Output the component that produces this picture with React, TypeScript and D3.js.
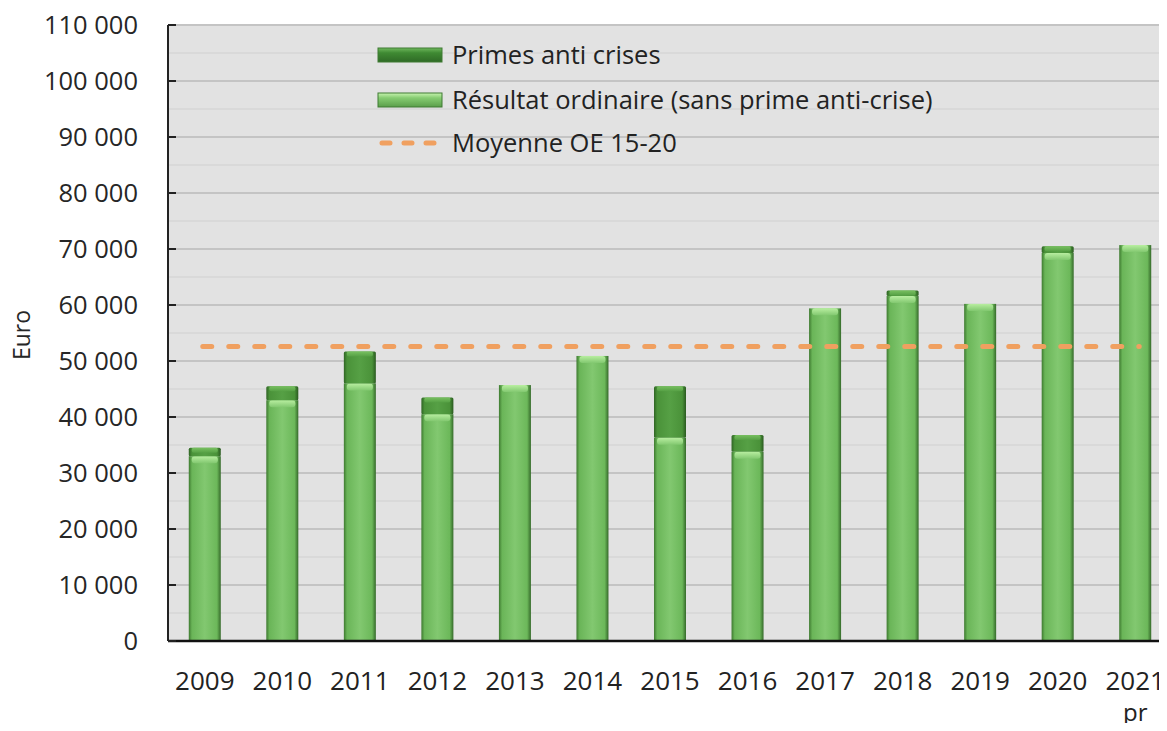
import React, { useEffect, useRef } from "react";
import * as d3 from "d3";

const years = ["2009", "2010", "2011", "2012", "2013", "2014", "2015", "2016", "2017", "2018", "2019", "2020", "2021"];
const ordinaire = [33000, 43000, 46000, 40500, 45700, 50900, 36300, 33800, 59400, 61600, 60200, 69300, 70700];
const primes = [1500, 2500, 5700, 3000, 0, 0, 9200, 3000, 0, 1000, 0, 1200, 0];
const moyenne = 52600;
const yTicks = [0, 10000, 20000, 30000, 40000, 50000, 60000, 70000, 80000, 90000, 100000, 110000];
const legendLabels = ["Primes anti crises", "Résultat ordinaire (sans prime anti-crise)", "Moyenne OE 15-20"];

const App = () => {
  const svgRef = useRef<SVGSVGElement>(null);

  useEffect(() => {
    const width = 1167;
    const height = 731;
    const left = 168;
    const top = 25;
    const bottom = 641;
    const font = "'Open Sans', 'Noto Sans', sans-serif";

    const x = d3.scaleBand().domain(years).range([166, 1174]).padding(0);
    const y = d3.scaleLinear().domain([0, 110000]).range([bottom, top]);
    const fmt = d3.formatLocale({ decimal: ",", thousands: " ", grouping: [3], currency: ["", "€"] }).format(",d");
    const barW = 32;

    const svg = d3.select(svgRef.current).attr("width", width).attr("height", height);
    svg.selectAll("*").remove();

    const defs = svg.append("defs");
    const grad = (id: string, stops: [number, string][], vertical = false) => {
      const g = defs.append("linearGradient").attr("id", id)
        .attr("x1", "0").attr("y1", "0")
        .attr("x2", vertical ? "0" : "1").attr("y2", vertical ? "1" : "0");
      stops.forEach(([o, c]) => g.append("stop").attr("offset", o).attr("stop-color", c));
    };
    grad("light", [[0, "#3e7a30"], [0.1, "#6ab558"], [0.5, "#82c870"], [0.88, "#6cb85a"], [1, "#356a2a"]]);
    grad("dark", [[0, "#2f6424"], [0.1, "#4a9239"], [0.5, "#56a045"], [0.88, "#4a9239"], [1, "#2a5a20"]]);
    grad("lightTop", [[0, "#b8eea0"], [1, "#82c870"]], true);
    grad("darkTop", [[0, "#78c060"], [1, "#56a045"]], true);
    grad("legDark", [[0, "#6fb85d"], [0.35, "#3f8a33"], [1, "#2f6a26"]], true);
    grad("legLight", [[0, "#c8f4b0"], [0.35, "#86cc72"], [1, "#5a9e4a"]], true);

    // left frame line
    svg.append("line").attr("x1", 2).attr("x2", 2).attr("y1", 0).attr("y2", height)
      .attr("stroke", "#333").attr("stroke-width", 1.5);

    // plot background
    svg.append("rect").attr("x", left).attr("y", top).attr("width", width - left).attr("height", bottom - top)
      .attr("fill", "#e2e2e2");

    const minor = d3.range(5000, 110000, 10000);
    svg.append("g").selectAll("line").data(minor).join("line")
      .attr("x1", left).attr("x2", width).attr("y1", (d) => y(d)).attr("y2", (d) => y(d))
      .attr("stroke", "#d6d6d6").attr("stroke-width", 1.5);

    svg.append("g").selectAll("line").data(yTicks.slice(1)).join("line")
      .attr("x1", left).attr("x2", width).attr("y1", (d) => y(d)).attr("y2", (d) => y(d))
      .attr("stroke", "#c4c4c4").attr("stroke-width", 2);

    // bars
    const bars = svg.append("g").selectAll("g").data(years).join("g")
      .attr("transform", (d) => `translate(${(x(d) as number) + x.bandwidth() / 2 - barW / 2},0)`);

    bars.each(function (d, i) {
      const g = d3.select(this);
      const o = ordinaire[i];
      const p = primes[i];
      g.append("rect").attr("x", 0).attr("width", barW)
        .attr("y", y(o)).attr("height", y(0) - y(o)).attr("fill", "url(#light)");
      g.append("rect").attr("x", 3).attr("width", barW - 6).attr("rx", 3)
        .attr("y", y(o)).attr("height", 7).attr("fill", "url(#lightTop)");
      if (p > 0) {
        g.append("rect").attr("x", 0).attr("width", barW).attr("rx", 1.5)
          .attr("y", y(o + p)).attr("height", y(o) - y(o + p)).attr("fill", "url(#dark)");
        g.append("rect").attr("x", 3).attr("width", barW - 6).attr("rx", 2)
          .attr("y", y(o + p)).attr("height", Math.min(5, y(o) - y(o + p))).attr("fill", "url(#darkTop)");
      }
    });

    // average line
    svg.append("line")
      .attr("x1", (x(years[0]) as number) + x.bandwidth() / 2 - 2)
      .attr("x2", (x(years[years.length - 1]) as number) + x.bandwidth() / 2 + 4)
      .attr("y1", y(moyenne)).attr("y2", y(moyenne))
      .attr("stroke", "#f0a060").attr("stroke-width", 5).attr("stroke-linecap", "round")
      .attr("stroke-dasharray", "9 17");

    // axes
    svg.append("line").attr("x1", left).attr("x2", left).attr("y1", top).attr("y2", bottom)
      .attr("stroke", "#222").attr("stroke-width", 2);
    svg.append("line").attr("x1", left).attr("x2", width).attr("y1", bottom).attr("y2", bottom)
      .attr("stroke", "#111").attr("stroke-width", 2.5);
    svg.append("g").selectAll("line").data(yTicks).join("line")
      .attr("x1", left).attr("x2", left + 8).attr("y1", (d) => y(d)).attr("y2", (d) => y(d))
      .attr("stroke", "#222").attr("stroke-width", 2);

    svg.append("g").selectAll("text").data(yTicks).join("text")
      .attr("x", 138).attr("y", (d) => y(d)).attr("dy", "0.35em")
      .attr("text-anchor", "end").attr("font-family", font).attr("font-size", 25.5)
      .attr("fill", "#262626").text((d) => fmt(d));

    svg.append("g").selectAll("text").data(years).join("text")
      .attr("x", (d) => (x(d) as number) + x.bandwidth() / 2).attr("y", 690)
      .attr("text-anchor", "middle").attr("font-family", font).attr("font-size", 26)
      .attr("fill", "#222").text((d) => d);
    svg.append("text").attr("x", (x("2021") as number) + x.bandwidth() / 2).attr("y", 721)
      .attr("text-anchor", "middle").attr("font-family", font).attr("font-size", 24)
      .attr("fill", "#222").text("pr");

    svg.append("text").attr("transform", "translate(30,335) rotate(-90)")
      .attr("text-anchor", "middle").attr("font-family", font).attr("font-size", 23)
      .attr("fill", "#262626").text("Euro");

    // legend
    const legY = [55, 100, 143];
    const leg = svg.append("g");
    legendLabels.forEach((lab, i) => {
      const cy = legY[i];
      if (i < 2) {
        leg.append("rect").attr("x", 378).attr("y", cy - 7).attr("width", 64).attr("height", 14)
          .attr("fill", i === 0 ? "url(#legDark)" : "url(#legLight)").attr("stroke", "#3f7a32").attr("stroke-width", 1);
      } else {
        leg.append("line").attr("x1", 382).attr("x2", 442).attr("y1", cy).attr("y2", cy)
          .attr("stroke", "#f0a060").attr("stroke-width", 5).attr("stroke-linecap", "round")
          .attr("stroke-dasharray", "8 14");
      }
      leg.append("text").attr("x", 452).attr("y", cy).attr("dy", "0.35em")
        .attr("font-family", font).attr("font-size", 25.5).attr("fill", "#222").text(lab);
    });
  }, []);

  return (
    <div style={{ margin: -8, width: 1167, height: 731, background: "#fff" }}>
      <svg ref={svgRef} style={{ display: "block" }}></svg>
    </div>
  );
};

export default App;
